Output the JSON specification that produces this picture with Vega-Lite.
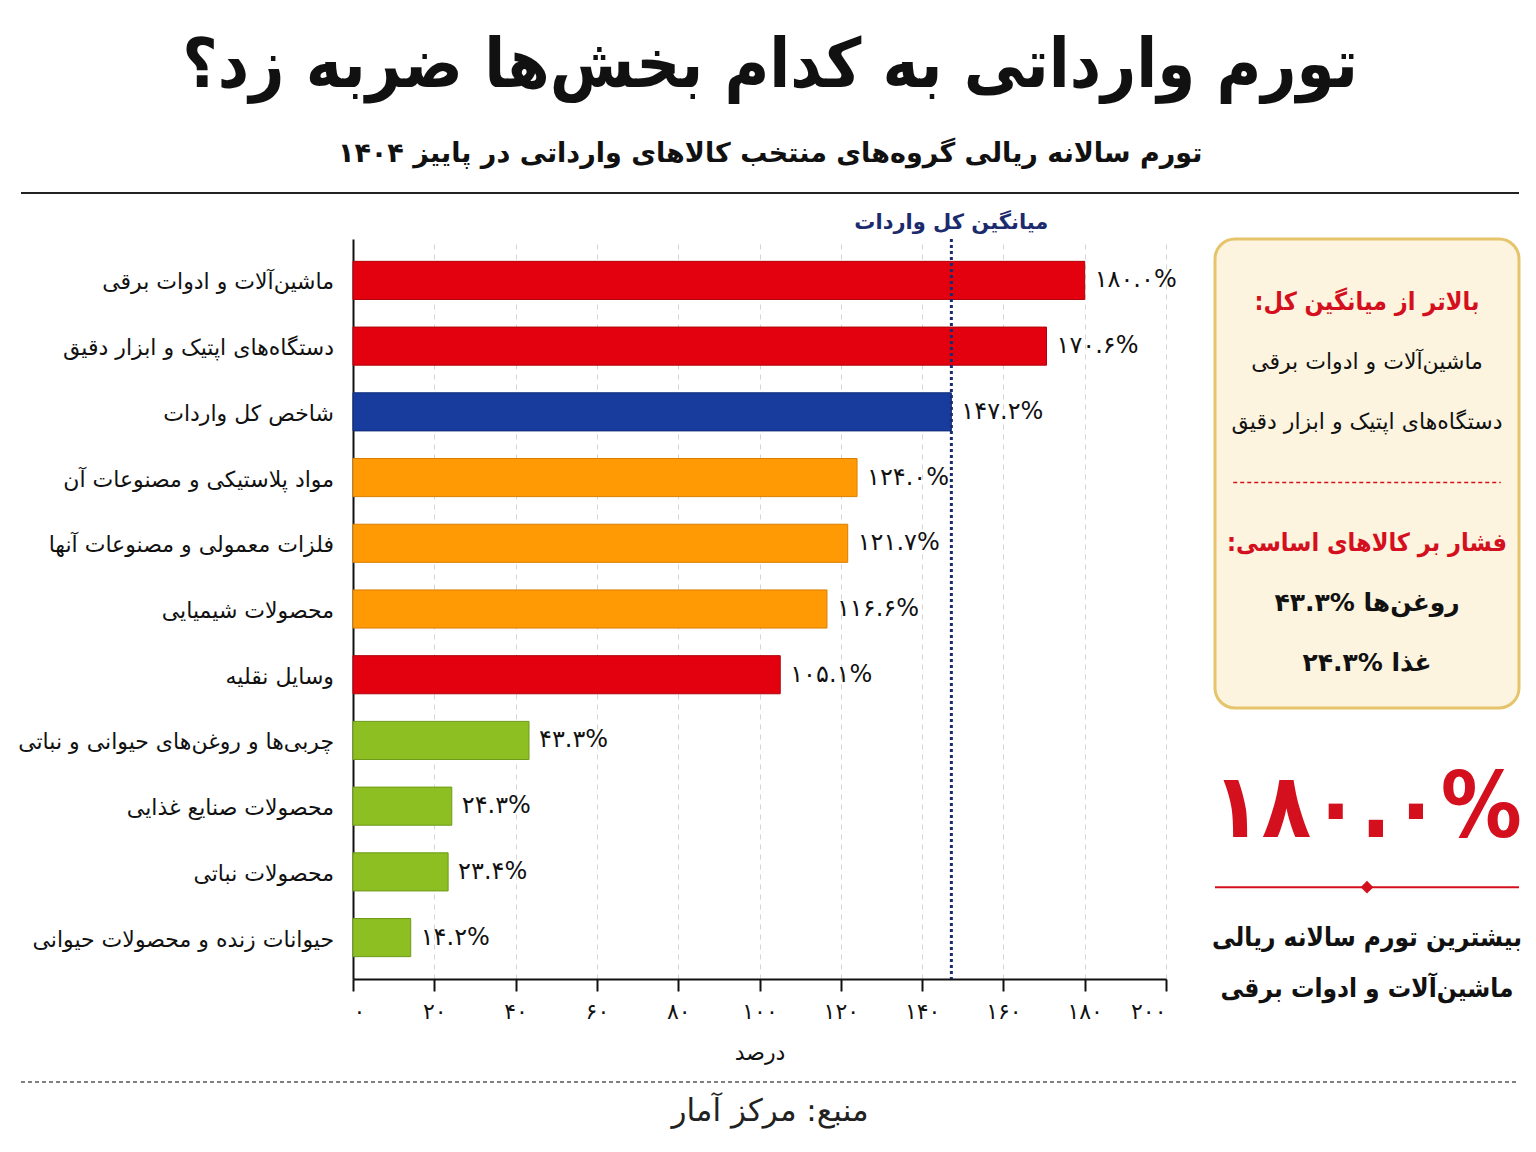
{
  "$schema": "https://vega.github.io/schema/vega-lite/v6.json",
  "background": "white",
  "padding": {"left": 18, "right": 20, "top": 33, "bottom": 4},
  "config": {
    "font": "DejaVu Sans",
    "view": {"stroke": null},
    "concat": {"spacing": 20}
  },
  "title": {
    "text": "تورم وارداتی به کدام بخش\u200cها ضربه زد؟",
    "subtitle": "تورم سالانه ریالی گروه\u200cهای منتخب کالاهای وارداتی در پاییز ۱۴۰۴",
    "font": "DejaVu Sans Condensed, DejaVu Sans",
    "fontSize": 68,
    "fontWeight": "bold",
    "color": "#111111",
    "subtitleFont": "DejaVu Sans",
    "subtitleFontSize": 27,
    "subtitleFontWeight": "bold",
    "subtitleColor": "#111111",
    "subtitlePadding": 40,
    "anchor": "middle",
    "offset": 25
  },
  "datasets": {
    "bars": [
      {"category": "ماشین\u200cآلات و ادوات برقی", "value": 180.0, "label": "۱۸۰.۰%", "group": "ماشین\u200cآلات و حمل\u200cونقل"},
      {"category": "دستگاه\u200cهای اپتیک و ابزار دقیق", "value": 170.6, "label": "۱۷۰.۶%", "group": "ماشین\u200cآلات و حمل\u200cونقل"},
      {"category": "شاخص کل واردات", "value": 147.2, "label": "۱۴۷.۲%", "group": "شاخص کل"},
      {"category": "مواد پلاستیکی و مصنوعات آن", "value": 124.0, "label": "۱۲۴.۰%", "group": "مواد اولیه صنعتی"},
      {"category": "فلزات معمولی و مصنوعات آنها", "value": 121.7, "label": "۱۲۱.۷%", "group": "مواد اولیه صنعتی"},
      {"category": "محصولات شیمیایی", "value": 116.6, "label": "۱۱۶.۶%", "group": "مواد اولیه صنعتی"},
      {"category": "وسایل نقلیه", "value": 105.1, "label": "۱۰۵.۱%", "group": "ماشین\u200cآلات و حمل\u200cونقل"},
      {"category": "چربی\u200cها و روغن\u200cهای حیوانی و نباتی", "value": 43.3, "label": "۴۳.۳%", "group": "کالاهای اساسی"},
      {"category": "محصولات صنایع غذایی", "value": 24.3, "label": "۲۴.۳%", "group": "کالاهای اساسی"},
      {"category": "محصولات نباتی", "value": 23.4, "label": "۲۳.۴%", "group": "کالاهای اساسی"},
      {"category": "حیوانات زنده و محصولات حیوانی", "value": 14.2, "label": "۱۴.۲%", "group": "کالاهای اساسی"}
    ],
    "box": [
      {"order": 1, "kind": "heading", "text": "بالاتر از میانگین کل:\u200f"},
      {"order": 2, "kind": "item", "text": "ماشین\u200cآلات و ادوات برقی"},
      {"order": 3, "kind": "item", "text": "دستگاه\u200cهای اپتیک و ابزار دقیق"},
      {"order": 4, "kind": "divider", "text": ""},
      {"order": 5, "kind": "heading", "text": "فشار بر کالاهای اساسی:\u200f"},
      {"order": 6, "kind": "stat", "text": "روغن\u200cها \u2066۴۳.۳%\u2069\u200f"},
      {"order": 7, "kind": "stat", "text": "غذا \u2066۲۴.۳%\u2069\u200f"}
    ],
    "highlight": [
      {"order": 1, "kind": "big", "text": "۱۸۰.۰%"},
      {"order": 2, "kind": "divider", "text": ""},
      {"order": 3, "kind": "caption", "text": "بیشترین تورم سالانه ریالی"},
      {"order": 4, "kind": "caption", "text": "ماشین\u200cآلات و ادوات برقی"}
    ],
    "source": [{"text": "منبع: مرکز آمار"}]
  },
  "spacing": 18,
  "vconcat": [
    {
      "width": 1498,
      "height": 2,
      "data": {"values": [{}]},
      "mark": {"type": "rule", "color": "#222222", "strokeWidth": 2},
      "encoding": {
        "x": {"datum": 0, "type": "quantitative", "scale": {"domain": [0, 1]}, "axis": null},
        "x2": {"datum": 1}
      }
    },
    {
      "spacing": 34,
      "hconcat": [
        {
          "spacing": 18,
          "hconcat": [
            {
              "width": 313,
              "height": 740,
              "data": {"name": "bars"},
              "mark": {"type": "text", "align": "right", "baseline": "middle", "dy": 2, "fontSize": 22, "color": "#111111"},
              "encoding": {
                "y": {"field": "category", "type": "nominal", "sort": null, "scale": {"type": "band", "paddingInner": 0.42, "paddingOuter": 0.34}, "axis": null},
                "x": {"datum": 1, "type": "quantitative", "scale": {"domain": [0, 1]}, "axis": null},
                "text": {"field": "category"}
              }
            },
            {
              "width": 813,
              "height": 740,
              "data": {"name": "bars"},
              "layer": [
                {
                  "mark": {"type": "bar", "strokeWidth": 1},
                  "encoding": {
                    "y": {
                      "field": "category",
                      "type": "nominal",
                      "sort": null,
                      "scale": {"paddingInner": 0.42, "paddingOuter": 0.34},
                      "axis": {
                        "title": null,
                        "labels": false,
                        "ticks": false,
                        "grid": false,
                        "domainColor": "#111111",
                        "domainWidth": 2
                      }
                    },
                    "x": {
                      "field": "value",
                      "type": "quantitative",
                      "scale": {"domain": [0, 200], "nice": false},
                      "axis": {
                        "values": [0, 20, 40, 60, 80, 100, 120, 140, 160, 180, 200],
                        "title": "درصد",
                        "titleFontSize": 22,
                        "titleFontWeight": "normal",
                        "titleColor": "#111111",
                        "titlePadding": 20,
                        "labelFontSize": 22,
                        "labelColor": "#111111",
                        "labelPadding": 10,
                        "tickSize": 12,
                        "tickWidth": 2,
                        "tickColor": "#111111",
                        "domainColor": "#111111",
                        "domainWidth": 2,
                        "grid": true,
                        "gridColor": "#d4d4d4",
                        "gridDash": [5, 5],
                        "labelExpr": "replace(replace(replace(replace(replace(replace(datum.label, regexp('0','g'), '۰'), regexp('1','g'), '۱'), regexp('2','g'), '۲'), regexp('4','g'), '۴'), regexp('6','g'), '۶'), regexp('8','g'), '۸')"
                      }
                    },
                    "color": {
                      "field": "group",
                      "type": "nominal",
                      "scale": {
                        "domain": ["ماشین\u200cآلات و حمل\u200cونقل", "شاخص کل", "مواد اولیه صنعتی", "کالاهای اساسی"],
                        "range": ["#E3000F", "#173C9E", "#FF9A05", "#8DBE22"]
                      },
                      "legend": null
                    },
                    "stroke": {
                      "field": "group",
                      "type": "nominal",
                      "scale": {
                        "domain": ["ماشین\u200cآلات و حمل\u200cونقل", "شاخص کل", "مواد اولیه صنعتی", "کالاهای اساسی"],
                        "range": ["#B0000A", "#0E2A78", "#D97E00", "#6E9A18"]
                      },
                      "legend": null
                    }
                  }
                },
                {
                  "mark": {"type": "text", "align": "left", "baseline": "middle", "dx": 10, "fontSize": 24, "color": "#111111"},
                  "encoding": {
                    "y": {"field": "category", "type": "nominal", "sort": null},
                    "x": {"field": "value", "type": "quantitative"},
                    "text": {"field": "label"}
                  }
                },
                {
                  "data": {"values": [{"avg": 147.2, "note": "میانگین کل واردات"}]},
                  "layer": [
                    {
                      "mark": {"type": "rule", "color": "#1C2B6E", "strokeWidth": 3, "strokeDash": [3, 3]},
                      "encoding": {"x": {"field": "avg", "type": "quantitative"}}
                    },
                    {
                      "mark": {"type": "text", "baseline": "middle", "dy": -38, "fontSize": 21, "fontWeight": "bold", "color": "#1C2B6E"},
                      "encoding": {
                        "x": {"field": "avg", "type": "quantitative"},
                        "y": {"datum": "ماشین\u200cآلات و ادوات برقی", "type": "nominal", "bandPosition": 0},
                        "text": {"field": "note"}
                      }
                    }
                  ]
                }
              ]
            }
          ]
        },
        {
          "spacing": 20,
          "vconcat": [
            {
              "width": 304,
              "height": 469,
              "view": {"fill": "#FDF4DF", "stroke": "#E6C46C", "strokeWidth": 3, "cornerRadius": 20},
              "data": {"name": "box"},
              "encoding": {
                "y": {"field": "order", "type": "quantitative", "scale": {"domain": [-0.05, 7.75], "reverse": true, "nice": false, "zero": false}, "axis": null}
              },
              "layer": [
                {
                  "transform": [{"filter": "datum.kind === 'heading'"}],
                  "mark": {"type": "text", "font": "DejaVu Sans Condensed, DejaVu Sans", "fontSize": 25, "fontWeight": "bold", "color": "#D4101E", "baseline": "middle"},
                  "encoding": {"text": {"field": "text"}}
                },
                {
                  "transform": [{"filter": "datum.kind === 'item'"}],
                  "mark": {"type": "text", "fontSize": 22, "color": "#111111", "baseline": "middle"},
                  "encoding": {"text": {"field": "text"}}
                },
                {
                  "transform": [{"filter": "datum.kind === 'stat'"}],
                  "mark": {"type": "text", "fontSize": 25, "fontWeight": "bold", "color": "#111111", "baseline": "middle"},
                  "encoding": {"text": {"field": "text"}}
                },
                {
                  "transform": [{"filter": "datum.kind === 'divider'"}],
                  "mark": {"type": "rule", "color": "#D4101E", "strokeDash": [4, 3], "strokeWidth": 1.5},
                  "encoding": {
                    "x": {"datum": 0.06, "type": "quantitative", "scale": {"domain": [0, 1]}, "axis": null},
                    "x2": {"datum": 0.94}
                  }
                }
              ]
            },
            {
              "width": 304,
              "height": 300,
              "data": {"name": "highlight"},
              "encoding": {
                "y": {"field": "order", "type": "quantitative", "scale": {"domain": [-1.08, 4.8], "reverse": true, "nice": false, "zero": false}, "axis": null}
              },
              "layer": [
                {
                  "transform": [{"filter": "datum.kind === 'big'"}],
                  "mark": {"type": "text", "font": "DejaVu Sans Condensed, DejaVu Sans", "fontSize": 90, "fontWeight": "bold", "color": "#D4101E", "baseline": "middle", "dy": -26},
                  "encoding": {"text": {"field": "text"}}
                },
                {
                  "transform": [{"filter": "datum.kind === 'divider'"}],
                  "mark": {"type": "rule", "color": "#D4101E", "strokeWidth": 2},
                  "encoding": {
                    "x": {"datum": 0, "type": "quantitative", "scale": {"domain": [0, 1]}, "axis": null},
                    "x2": {"datum": 1}
                  }
                },
                {
                  "transform": [{"filter": "datum.kind === 'divider'"}],
                  "mark": {"type": "point", "shape": "diamond", "filled": true, "color": "#D4101E", "size": 160, "opacity": 1}
                },
                {
                  "transform": [{"filter": "datum.kind === 'caption'"}],
                  "mark": {"type": "text", "font": "DejaVu Sans Condensed, DejaVu Sans", "fontSize": 26, "fontWeight": "bold", "color": "#111111", "baseline": "middle"},
                  "encoding": {"text": {"field": "text"}}
                }
              ]
            }
          ]
        }
      ]
    },
    {
      "width": 1498,
      "height": 60,
      "data": {"name": "source"},
      "layer": [
        {
          "mark": {"type": "rule", "strokeDash": [4, 3], "color": "#555555", "strokeWidth": 1.5},
          "encoding": {
            "x": {"datum": 0, "type": "quantitative", "scale": {"domain": [0, 1]}, "axis": null},
            "x2": {"datum": 1},
            "y": {"datum": 0, "type": "quantitative", "scale": {"domain": [0, 1], "reverse": true}, "axis": null}
          }
        },
        {
          "mark": {"type": "text", "fontSize": 31, "color": "#222222", "baseline": "middle"},
          "encoding": {"text": {"field": "text"}}
        }
      ]
    }
  ]
}
